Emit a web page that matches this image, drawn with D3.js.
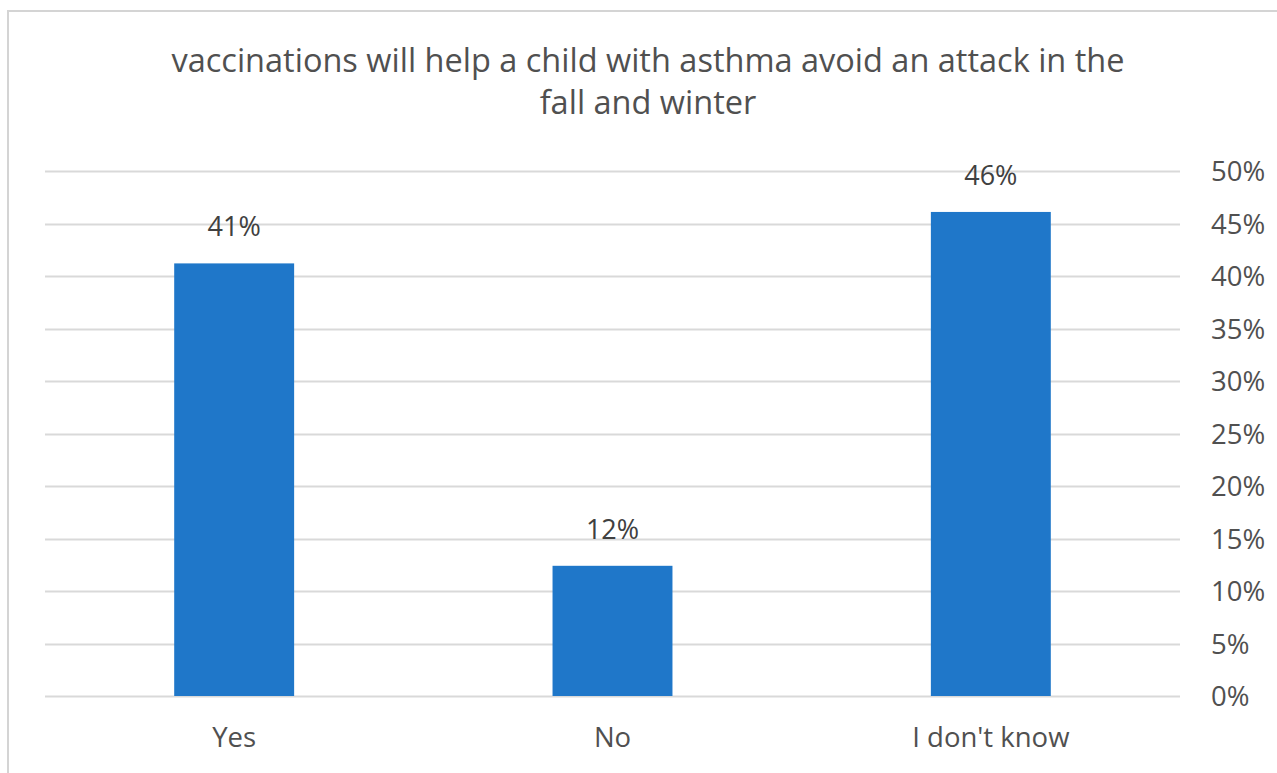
<!DOCTYPE html>
<html>
<head>
<meta charset="utf-8">
<script src="https://cdn.jsdelivr.net/npm/d3@7"></script>
<style>
  html, body { margin: 0; padding: 0; background: #fff; }
  svg { display: block; font-family: "Open Sans", sans-serif; }
</style>
</head>
<body>
<svg id="chart" width="1277" height="773"></svg>
<script>
// Survey responses
const categories = ["Yes", "No", "I don't know"];
const shares = [0.412, 0.124, 0.461];
const yTicks = [0, 0.05, 0.10, 0.15, 0.20, 0.25, 0.30, 0.35, 0.40, 0.45, 0.50];
const titleLines = [
  "vaccinations will help a child with asthma avoid an attack in the",
  "fall and winter"
];

const svg = d3.select("#chart");
const W = 1277, H = 773;
const plot = { left: 45, right: 1180, top: 171, bottom: 696 };

// chart frame
svg.append("rect")
  .attr("x", 8).attr("y", 11)
  .attr("width", W + 10).attr("height", H + 10)
  .attr("fill", "#fff")
  .attr("stroke", "#d4d4d4").attr("stroke-width", 2);

const x = d3.scaleBand()
  .domain(categories)
  .range([plot.left, plot.right])
  .paddingInner(0.683)
  .paddingOuter(0.3415);

const y = d3.scaleLinear()
  .domain([0, 0.5])
  .range([plot.bottom, plot.top]);

const pct = d3.format(".0%");

// gridlines
svg.append("g")
  .selectAll("line")
  .data(yTicks)
  .join("line")
  .attr("x1", plot.left).attr("x2", plot.right)
  .attr("y1", d => Math.round(y(d)) + 0.5)
  .attr("y2", d => Math.round(y(d)) + 0.5)
  .attr("stroke", "#d9d9d9").attr("stroke-width", 2);

// right value axis
const yAxis = svg.append("g")
  .attr("transform", `translate(${plot.right},0)`)
  .call(d3.axisRight(y).tickValues(yTicks).tickFormat(pct).tickSize(0).tickPadding(31));
yAxis.select(".domain").remove();
yAxis.selectAll("text")
  .attr("fill", "#505050")
  .attr("font-size", 27.5)
  .attr("font-family", "'Open Sans', sans-serif")
  .attr("dy", "0.35em");

// bars
svg.append("g")
  .selectAll("rect")
  .data(categories)
  .join("rect")
  .attr("x", d => x(d))
  .attr("width", x.bandwidth())
  .attr("y", (d, i) => y(shares[i]))
  .attr("height", (d, i) => y(0) - y(shares[i]))
  .attr("fill", "#1f77c9");

// value labels
svg.append("g")
  .selectAll("text")
  .data(categories)
  .join("text")
  .attr("x", d => x(d) + x.bandwidth() / 2)
  .attr("y", (d, i) => y(shares[i]) - 27)
  .attr("text-anchor", "middle")
  .attr("font-size", 27)
  .attr("fill", "#404040")
  .text((d, i) => pct(shares[i]));

// category axis
const xAxis = svg.append("g")
  .attr("transform", `translate(0,${plot.bottom})`)
  .call(d3.axisBottom(x).tickSize(0).tickPadding(0));
xAxis.select(".domain").remove();
xAxis.selectAll("text")
  .attr("fill", "#505050")
  .attr("font-size", 27.5)
  .attr("font-family", "'Open Sans', sans-serif")
  .attr("dy", null)
  .attr("y", 51);

// title
svg.append("g")
  .selectAll("text")
  .data(titleLines)
  .join("text")
  .attr("x", 648)
  .attr("y", (d, i) => 72 + i * 42)
  .attr("text-anchor", "middle")
  .attr("font-size", 32.5)
  .attr("fill", "#505050")
  .text(d => d);
</script>
</body>
</html>
